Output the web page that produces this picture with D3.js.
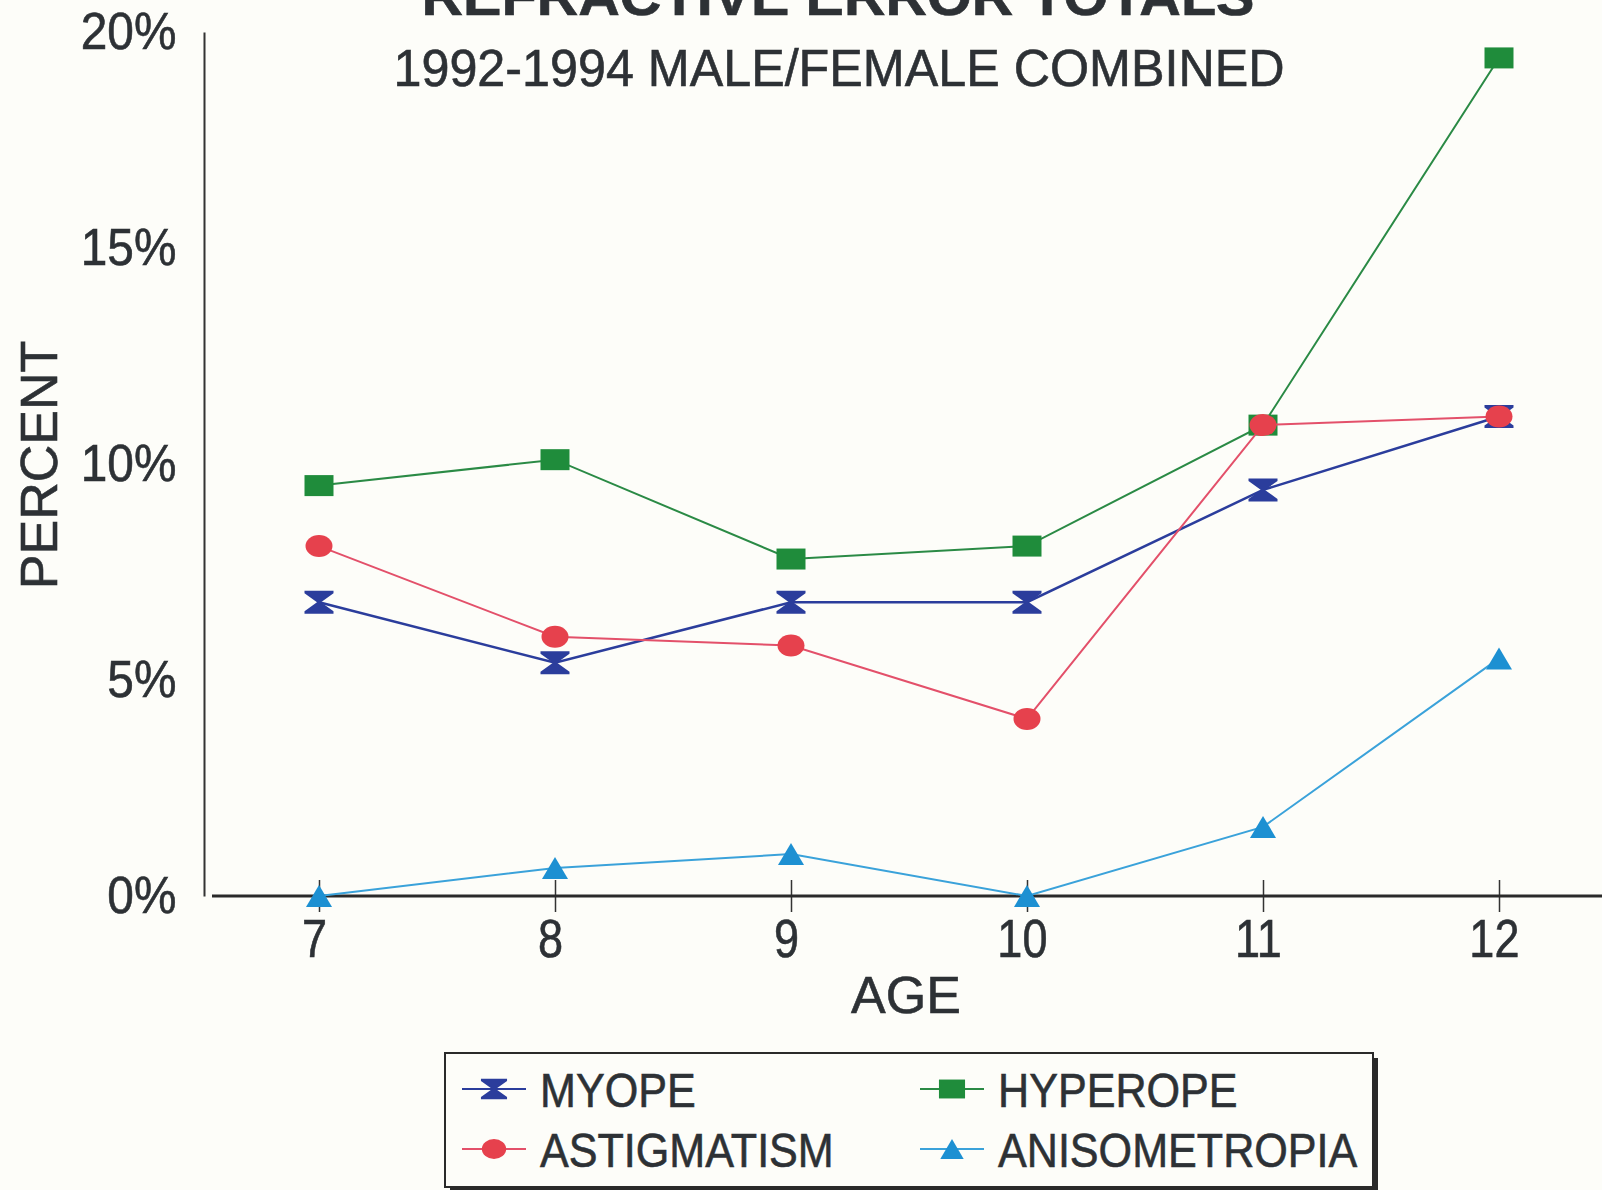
<!DOCTYPE html>
<html>
<head>
<meta charset="utf-8">
<script src="https://cdn.jsdelivr.net/npm/d3@7"></script>
<style>
  body { margin: 0; background: #fdfdf9; }
  svg { display: block; }
  text { font-family: "Liberation Sans", Arial, sans-serif; fill: #2d3135; stroke: #2d3135; stroke-width: 0.6px; }
</style>
</head>
<body>
<div id="chart-area"></div>
<script>
// data
var ages = [7, 8, 9, 10, 11, 12];
var myope = [6.8, 5.4, 6.8, 6.8, 9.4, 11.1];
var hyperope = [9.5, 10.1, 7.8, 8.1, 10.9, 19.4];
var astigmatism = [8.1, 6.0, 5.8, 4.1, 10.9, 11.1];
var anisometropia = [0, 0.65, 0.97, 0, 1.6, 5.5];
var seriesNames = ["MYOPE", "HYPEROPE", "ASTIGMATISM", "ANISOMETROPIA"];
var yTicks = [0, 5, 10, 15, 20];

var margin = {top: 32, bottom: 294, left: 204, right: 103},
    width = 1602 - margin.left - margin.right,
    height = 1190 - margin.top - margin.bottom;

var series = [
    {name: seriesNames[0], values: myope, color: "#2b3d9c", line: "#2b3d9c", shape: "bowtie", lw: 2.5},
    {name: seriesNames[1], values: hyperope, color: "#1f8c3b", line: "#2a8a45", shape: "square", lw: 2},
    {name: seriesNames[2], values: astigmatism, color: "#e6414d", line: "#e3506a", shape: "circle", lw: 2},
    {name: seriesNames[3], values: anisometropia, color: "#1d90d2", line: "#3aa2da", shape: "triangle", lw: 2}
];

var root = d3.select("#chart-area").append("svg")
    .attr("width", 1602)
    .attr("height", 1190);

root.append("rect")
    .attr("width", 1602)
    .attr("height", 1190)
    .attr("fill", "#fdfdf9");

var svg = root.append("g")
    .attr("transform", "translate(" + margin.left + "," + margin.top + ")");

var x = d3.scaleLinear().domain([7, 12]).range([115, 1295]);
var y = d3.scaleLinear().domain([0, 20]).range([height, 0]);

// marker shapes
function markerPath(shape) {
    if (shape == "bowtie") return "M-14.5,-11.5H14.5V-9L2,0L14.5,9V11.5H-14.5V9L-2,0L-14.5,-9Z";
    if (shape == "square") return "M-14.5,-10.5H14.5V10.5H-14.5Z";
    if (shape == "triangle") return "M0,-11L13,11L-13,11Z";
    // flattened circle
    return "M-13.5,0A13.5,11 0 1,0 13.5,0A13.5,11 0 1,0 -13.5,0Z";
}

// titles (the top one is cut by the page edge, as in the scan)
root.append("text")
    .attr("x", 838)
    .attr("y", 15)
    .attr("text-anchor", "middle")
    .attr("font-size", 54)
    .attr("font-weight", "bold")
    .attr("textLength", 833)
    .attr("lengthAdjust", "spacingAndGlyphs")
    .text("REFRACTIVE ERROR TOTALS");

root.append("text")
    .attr("x", 839)
    .attr("y", 86)
    .attr("text-anchor", "middle")
    .attr("font-size", 51)
    .attr("textLength", 891)
    .attr("lengthAdjust", "spacingAndGlyphs")
    .text("1992-1994 MALE/FEMALE COMBINED");

// y axis
var yAxis = svg.append("g")
    .call(d3.axisLeft(y).tickValues(yTicks).tickSize(0).tickPadding(30)
        .tickFormat(function(d) { return d + "%"; }));
yAxis.select(".domain").attr("stroke", "#333").attr("stroke-width", 2);
yAxis.selectAll("text")
    .attr("font-size", 52)
    .attr("fill", "#2d3135")
    .attr("transform", "scale(0.92,1)");

// x axis
var xAxis = svg.append("g")
    .attr("transform", "translate(0," + height + ")")
    .call(d3.axisBottom(x).tickValues(ages).tickFormat(d3.format("d"))
        .tickSize(16).tickPadding(7));
xAxis.select(".domain").remove();
xAxis.selectAll(".tick line")
    .attr("y1", -16)
    .attr("stroke", "#333")
    .attr("stroke-width", 1.5);
xAxis.selectAll("text")
    .attr("font-size", 53)
    .attr("fill", "#2d3135")
    .attr("x", -6)
    .attr("transform", "scale(0.85,1)");
xAxis.append("line")
    .attr("x1", 8)
    .attr("x2", 1602 - margin.left)
    .attr("stroke", "#2a2a2a")
    .attr("stroke-width", 3);

// axis titles
root.append("text")
    .attr("x", 906)
    .attr("y", 1013)
    .attr("text-anchor", "middle")
    .attr("font-size", 52)
    .text("AGE");

root.append("text")
    .attr("transform", "translate(57,465) rotate(-90)")
    .attr("text-anchor", "middle")
    .attr("font-size", 52)
    .text("PERCENT");

// lines + markers
var line = d3.line()
    .x(function(d, i) { return x(ages[i]); })
    .y(function(d) { return y(d); });

series.forEach(function(s) {
    svg.append("path")
        .attr("d", line(s.values))
        .attr("fill", "none")
        .attr("stroke", s.line)
        .attr("stroke-width", s.lw);

    svg.selectAll(".m-" + s.shape)
        .data(s.values)
        .enter().append("path")
        .attr("class", "m-" + s.shape)
        .attr("transform", function(d, i) { return "translate(" + x(ages[i]) + "," + y(d) + ")"; })
        .attr("d", markerPath(s.shape))
        .attr("fill", s.color);
});

// legend
var legend = root.append("g").attr("transform", "translate(445,1053)");

legend.append("rect")
    .attr("x", 5)
    .attr("y", 5)
    .attr("width", 928)
    .attr("height", 134)
    .attr("fill", "#2a2a2a");
legend.append("rect")
    .attr("width", 928)
    .attr("height", 134)
    .attr("fill", "#fdfdf9")
    .attr("stroke", "#2a2a2a")
    .attr("stroke-width", 2);

var item = legend.selectAll(".item")
    .data(series)
    .enter().append("g")
    .attr("class", "item")
    .attr("transform", function(d, i) {
        return "translate(" + (49 + (i % 2) * 458) + "," + (36 + Math.floor(i / 2) * 60) + ")";
    });

item.append("line")
    .attr("x1", -32)
    .attr("x2", 32)
    .attr("stroke", function(d) { return d.line; })
    .attr("stroke-width", 2);

item.append("path")
    .attr("d", function(d) { return markerPath(d.shape); })
    .attr("transform", "scale(0.9)")
    .attr("fill", function(d) { return d.color; });

item.append("text")
    .attr("x", 46 / 0.88)
    .attr("dy", "0.36em")
    .attr("font-size", 49)
    .attr("transform", "scale(0.88,1)")
    .text(function(d) { return d.name; });
</script>
</body>
</html>
